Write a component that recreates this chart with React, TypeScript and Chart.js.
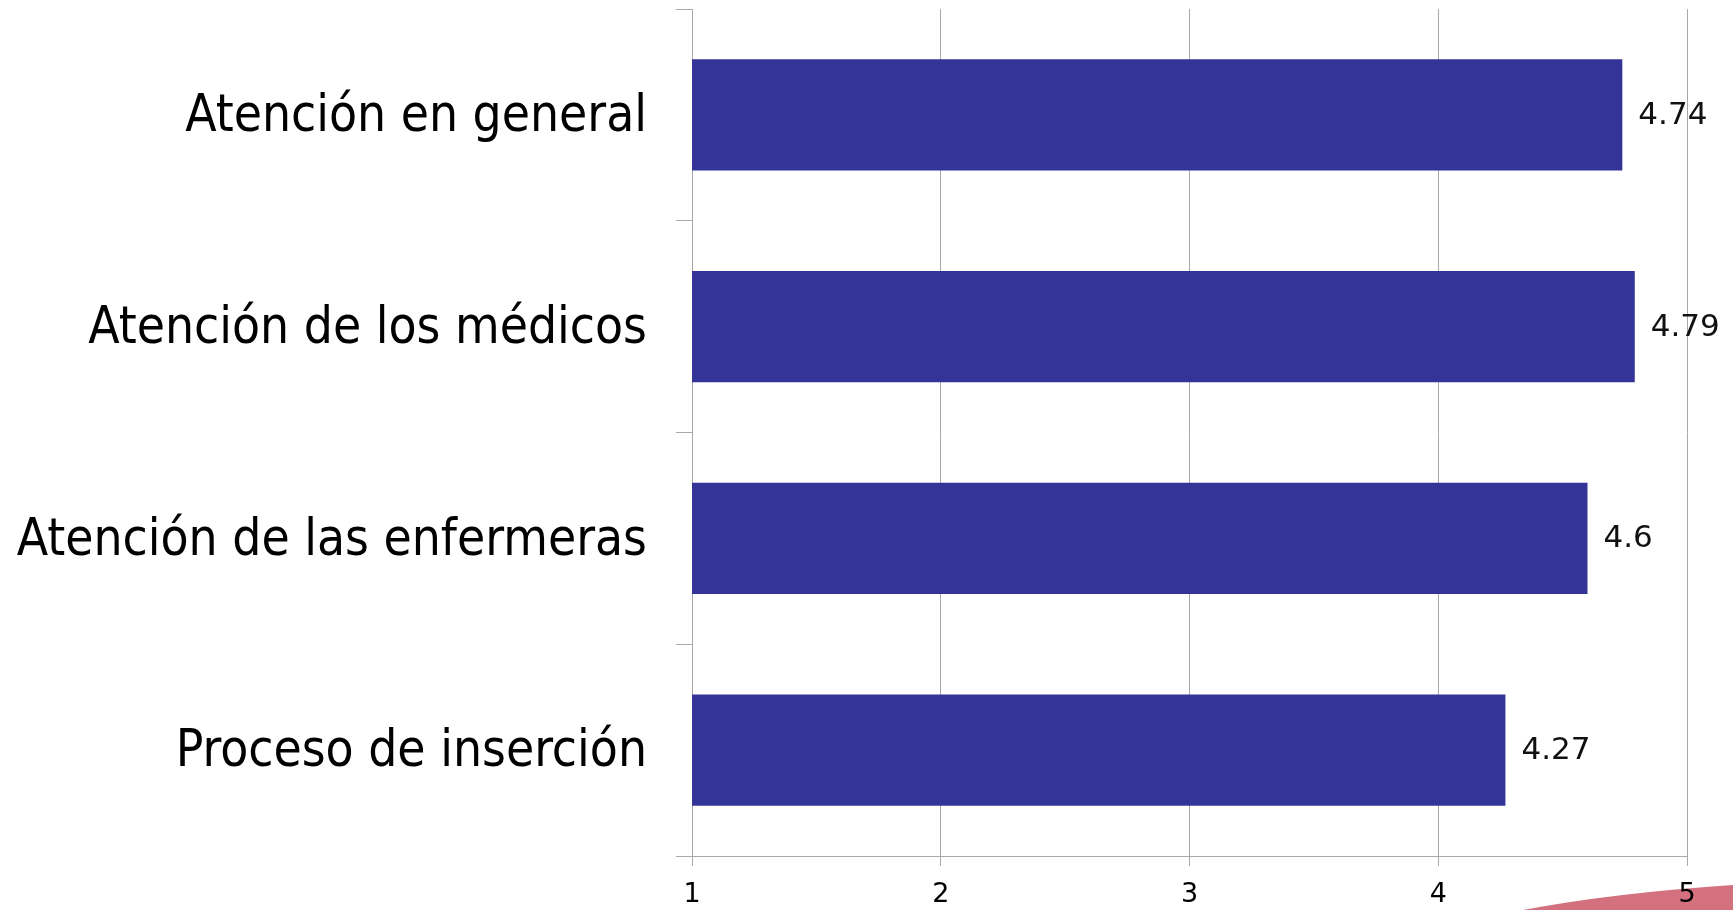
import React, { useEffect, useRef } from "react";
import { Chart, registerables } from "chart.js";

Chart.register(...registerables);

const categories = [
  "Atención en general",
  "Atención de los médicos",
  "Atención de las enfermeras",
  "Proceso de inserción",
];
const values = [4.74, 4.79, 4.6, 4.27];
const xTicks = [1, 2, 3, 4, 5];

const valueLabels = {
  id: "valueLabels",
  afterDatasetsDraw(chart: any) {
    const ctx = chart.ctx;
    const meta = chart.getDatasetMeta(0);
    ctx.save();
    ctx.font = "31px 'DejaVu Sans'";
    ctx.fillStyle = "#111";
    ctx.textAlign = "left";
    ctx.textBaseline = "middle";
    meta.data.forEach((bar: any, i: number) => {
      ctx.fillText(String(values[i]), bar.x + 16, bar.y + 1);
    });
    ctx.restore();
  },
};

const swoosh = {
  id: "swoosh",
  beforeDraw(chart: any) {
    const ctx = chart.ctx;
    const w = chart.width;
    const h = chart.height;
    ctx.save();
    ctx.fillStyle = "#d4717f";
    ctx.beginPath();
    ctx.moveTo(w - 210, h);
    ctx.quadraticCurveTo(w - 120, h - 17, w, h - 25);
    ctx.lineTo(w, h);
    ctx.closePath();
    ctx.fill();
    ctx.restore();
  },
};

export default function App() {
  const ref = useRef<HTMLCanvasElement | null>(null);
  useEffect(() => {
    if (!ref.current) return;
    const chart = new Chart(ref.current, {
      type: "bar",
      data: {
        labels: categories,
        datasets: [
          {
            data: values,
            backgroundColor: "#333398",
            borderWidth: 0,
            barPercentage: 0.525,
            categoryPercentage: 1,
          },
        ],
      },
      options: {
        indexAxis: "y",
        animation: false,
        responsive: false,
        maintainAspectRatio: false,
        layout: { padding: { top: 9, right: 46, left: 0, bottom: 0 } },
        plugins: { legend: { display: false }, tooltip: { enabled: false } },
        scales: {
          x: {
            min: 1,
            max: 5,
            afterBuildTicks(scale: any) {
              scale.ticks = xTicks.map((v) => ({ value: v }));
            },
            afterFit(scale: any) {
              scale.height = 54;
              scale.paddingLeft = 0;
              scale.paddingRight = 0;
            },
            grid: {
              color: "#a8a8a8",
              lineWidth: 1,
              tickLength: 10,
              drawOnChartArea: true,
            },
            border: { display: true, color: "#a8a8a8", width: 1 },
            ticks: {
              color: "#000",
              padding: 13,
              font: { family: "'DejaVu Sans'", size: 27 },
            },
          },
          y: {
            afterFit(scale: any) {
              scale.width = 692;
              scale.paddingTop = 0;
              scale.paddingBottom = 0;
            },
            grid: {
              offset: true,
              drawOnChartArea: false,
              drawTicks: true,
              tickLength: 16,
              color: "#a8a8a8",
            },
            border: { display: true, color: "#a8a8a8", width: 1 },
            ticks: {
              color: "#000",
              padding: 29,
              labelOffset: 3,
              font: { family: "'DejaVu Sans Condensed', 'DejaVu Sans'", size: 51 },
            },
          },
        },
      },
      plugins: [valueLabels, swoosh],
    });
    return () => chart.destroy();
  }, []);
  return (
    <div style={{ position: "fixed", left: 0, top: 0, width: 1733, height: 910, background: "#fff" }}>
      <canvas ref={ref} width={1733} height={910} style={{ width: 1733, height: 910, display: "block" }} />
    </div>
  );
}
